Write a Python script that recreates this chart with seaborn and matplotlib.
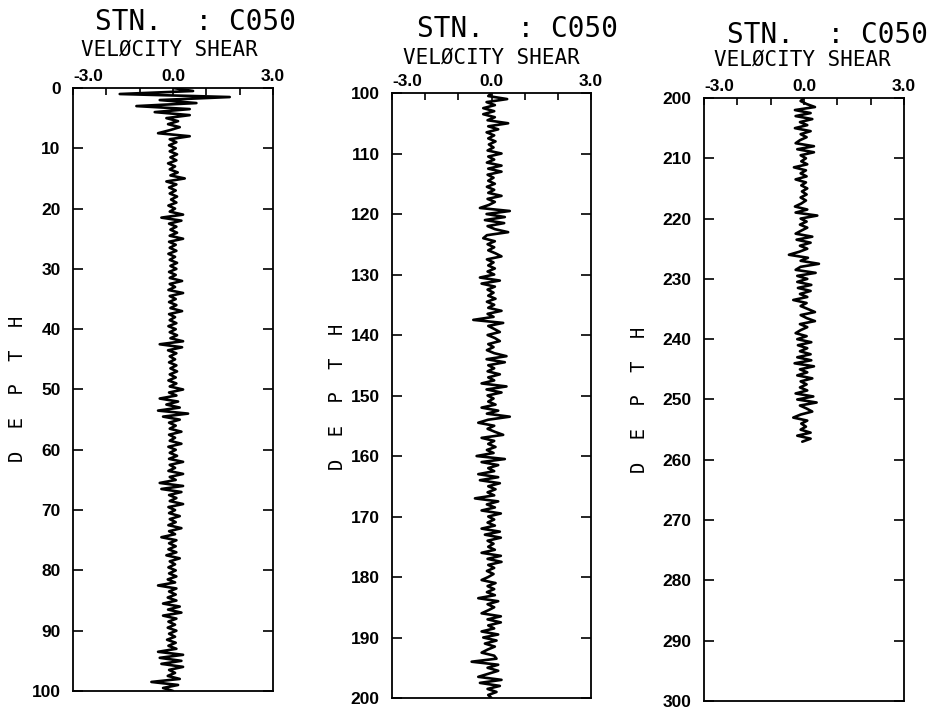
import matplotlib
matplotlib.use("Agg")
import matplotlib.pyplot as plt
import numpy as np
import seaborn as sns

# ---- data (velocity shear vs depth, 0.5 m steps) ----
station_title = "STN.  : C050"
quantity_title = "VELØCITY SHEAR"
x_tick_values = [-3, -2, -1, 0, 1, 2, 3]
x_tick_labels = ["-3.0", "", "", "0.0", "", "", "3.0"]

depth_step = 0.5

shear_0_100 = [
    0.0, 0.6, -1.6, 1.7, -0.4, 0.7, -1.1, 0.5, -0.55, 0.5,
    -0.2, 0.15, -0.15, 0.2, -0.1, -0.45, 0.5, -0.1, 0.1, -0.12,
    0.08, -0.1, 0.12, -0.08, 0.1, -0.15, 0.06, -0.1, 0.14, -0.08,
    0.35, -0.2, 0.1, -0.12, 0.08, -0.1, 0.12, -0.06, 0.1, -0.14,
    0.06, -0.1, 0.3, -0.35, 0.25, -0.12, 0.1, -0.08, 0.12, -0.1,
    0.3, -0.12, 0.08, -0.1, 0.1, -0.14, 0.06, -0.1, 0.12, -0.08,
    0.1, -0.12, 0.08, -0.1, 0.27, -0.1, 0.06, -0.14, 0.3, -0.1,
    0.08, -0.12, 0.1, -0.08, 0.27, -0.12, 0.06, -0.1, 0.1, -0.14,
    0.08, -0.1, 0.12, -0.08, 0.3, -0.4, 0.27, -0.15, 0.1, -0.1,
    0.06, -0.12, 0.1, -0.08, 0.12, -0.1, 0.08, -0.14, 0.1, -0.1,
    0.3, -0.12, 0.1, -0.4, 0.15, -0.2, 0.2, -0.45, 0.45, -0.3,
    0.2, -0.12, 0.08, -0.1, 0.25, -0.12, 0.06, -0.1, 0.25, -0.14,
    0.08, -0.1, 0.12, -0.12, 0.3, -0.1, 0.06, -0.14, 0.3, -0.1,
    0.08, -0.4, 0.3, -0.35, 0.25, -0.12, 0.1, -0.1, 0.3, -0.14,
    0.06, -0.12, 0.2, -0.1, 0.08, -0.14, 0.25, -0.12, 0.06, -0.35,
    0.1, -0.12, 0.08, -0.14, 0.1, -0.2, 0.2, -0.1, 0.06, -0.14,
    0.08, -0.12, 0.1, -0.16, 0.06, -0.45, 0.1, -0.12, 0.08, -0.16,
    0.1, -0.3, 0.2, -0.15, 0.25, -0.3, 0.1, -0.14, 0.06, -0.16,
    0.1, -0.12, 0.06, -0.18, 0.08, -0.14, 0.1, -0.45, 0.3, -0.4,
    0.25, -0.35, 0.3, -0.12, 0.06, -0.16, 0.2, -0.65, 0.15, -0.3,
    0.0,
]

shear_100_200 = [
    0.0, -0.1, 0.47, -0.15, 0.1, -0.25, 0.08, -0.25, 0.1, -0.12,
    0.5, -0.1, 0.2, -0.15, 0.08, -0.1, 0.12, -0.08, 0.06, -0.12,
    0.3, -0.1, 0.08, -0.14, 0.3, -0.1, 0.3, -0.12, 0.06, -0.1,
    0.1, -0.14, 0.08, -0.1, 0.3, -0.12, 0.1, -0.08, -0.35, 0.55,
    -0.15, 0.4, -0.2, 0.38, -0.12, 0.1, 0.5, -0.14, -0.25, 0.1,
    -0.12, 0.08, -0.1, 0.12, 0.3, -0.14, 0.06, -0.1, 0.1, -0.12,
    0.08, -0.35, 0.25, -0.3, 0.1, -0.12, 0.06, -0.1, 0.12, -0.14,
    0.08, -0.1, 0.3, -0.12, 0.06, -0.55, 0.35, -0.1, 0.08, 0.25,
    -0.12, 0.1, 0.25, -0.1, 0.06, -0.14, 0.08, 0.45, -0.15, 0.4,
    -0.1, 0.08, -0.12, 0.25, -0.1, 0.08, -0.3, 0.45, -0.15, 0.3,
    -0.12, 0.06, -0.1, 0.12, -0.3, 0.2, -0.14, 0.55, -0.1, -0.4,
    0.08, -0.12, 0.1, 0.35, -0.3, 0.08, -0.1, 0.12, -0.14, 0.06,
    -0.45, 0.4, -0.3, 0.2, -0.1, 0.08, -0.4, 0.2, -0.35, 0.25,
    -0.1, 0.12, -0.12, 0.08, -0.5, 0.2, -0.14, 0.1, -0.3, 0.28,
    -0.1, 0.08, -0.12, 0.1, -0.3, 0.25, -0.2, 0.28, -0.12, 0.06,
    -0.1, 0.1, -0.3, 0.28, -0.12, 0.3, -0.1, 0.08, -0.14, 0.06,
    -0.1, -0.3, 0.12, -0.12, 0.08, -0.14, 0.1, -0.4, 0.2, -0.12,
    0.08, -0.1, -0.3, 0.28, -0.12, 0.28, -0.1, 0.08, -0.3, 0.2,
    -0.25, 0.15, -0.2, 0.1, -0.12, -0.3, 0.08, 0.15, -0.6, 0.2,
    -0.12, 0.2, -0.1, -0.4, 0.3, -0.35, 0.25, -0.12, 0.15, -0.1,
    0.0,
]

shear_200_257 = [
    0.0, -0.1, 0.08, 0.33, -0.27, 0.2, -0.25, 0.25, -0.12, 0.1,
    -0.27, 0.2, -0.1, 0.08, -0.12, -0.25, 0.3, -0.2, 0.3, -0.1,
    0.06, -0.08, 0.1, -0.3, 0.06, -0.1, 0.08, -0.25, 0.06, -0.08,
    0.1, -0.06, 0.08, -0.1, 0.06, -0.08, -0.27, 0.1, -0.25, 0.4,
    -0.1, 0.08, -0.12, 0.1, -0.08, -0.25, 0.25, -0.22, 0.2, -0.12,
    0.1, -0.14, -0.45, 0.12, -0.1, 0.45, -0.1, -0.25, 0.35, -0.2,
    0.1, -0.2, 0.22, -0.18, 0.2, -0.12, 0.1, -0.32, 0.08, -0.1,
    0.12, 0.33, -0.1, 0.08, 0.33, -0.12, 0.1, -0.1, -0.25, 0.08,
    -0.2, 0.22, -0.18, 0.1, -0.12, 0.2, -0.2, 0.22, -0.28, 0.3,
    -0.12, 0.1, -0.2, 0.25, -0.1, 0.08, -0.12, 0.1, -0.25, 0.28,
    -0.2, 0.38, -0.12, 0.08, 0.25, -0.1, -0.32, 0.1, -0.08, 0.06,
    -0.1, 0.2, -0.2, 0.2, -0.05,
]

panel_starts = [0, 100, 200]
panel_shear = [shear_0_100, shear_100_200, shear_200_257]

# ---- layout (figure fractions) ----
axes_boxes = [
    [0.078, 0.0254, 0.2134, 0.8505],
    [0.4184, 0.0155, 0.2124, 0.8533],
    [0.7513, 0.0113, 0.2134, 0.8505],
]
station_pos = [(0.209, 0.957), (0.552, 0.948), (0.883, 0.940)]
quantity_pos = [(0.181, 0.922), (0.524, 0.911), (0.856, 0.907)]
depth_label_pos = [(0.019, 0.451), (0.36, 0.44), (0.683, 0.436)]

sns.set_style("ticks")
plt.rcParams["font.family"] = ["DejaVu Sans Mono", "DejaVu Sans"]
plt.rcParams["text.color"] = "black"
plt.rcParams["xtick.color"] = "black"
plt.rcParams["ytick.color"] = "black"

fig = plt.figure(figsize=(9.37, 7.09), dpi=100)

for i, (start, shear) in enumerate(zip(panel_starts, panel_shear)):
    depth = start + depth_step * np.arange(len(shear))
    ax = fig.add_axes(axes_boxes[i])
    sns.lineplot(x=shear, y=depth, orient="y", sort=False, estimator=None,
                 color="black", linewidth=1.9, ax=ax)

    ax.set_xlim(-3, 3)
    ax.set_ylim(start + 100, start)
    ax.set_xlabel("")
    ax.set_ylabel("")

    ax.xaxis.set_ticks_position("top")
    ax.set_xticks(x_tick_values)
    ax.set_xticklabels(x_tick_labels)
    yticks = list(range(start, start + 101, 10))
    ax.set_yticks(yticks)
    ax.set_yticklabels([str(v) for v in yticks])

    ax.tick_params(axis="x", direction="in", length=5, width=1.2,
                   top=True, bottom=False, labeltop=True, labelbottom=False, pad=3)
    ax.tick_params(axis="y", direction="in", length=7, width=1.2,
                   left=True, right=True, labelleft=True, pad=9)
    for lbl in ax.get_xticklabels() + ax.get_yticklabels():
        lbl.set_fontfamily(["Liberation Sans", "DejaVu Sans"])
        lbl.set_fontweight("bold")
        lbl.set_fontsize(12.5)
        lbl.set_color("black")
    ax.get_xticklabels()[0].set_horizontalalignment("left")

    for side in ["top", "bottom", "left", "right"]:
        ax.spines[side].set_visible(True)
        ax.spines[side].set_linewidth(1.3)
        ax.spines[side].set_color("black")

    fig.text(*station_pos[i], station_title, ha="center", va="baseline",
             fontsize=20, color="black")
    fig.text(*quantity_pos[i], quantity_title, ha="center", va="baseline",
             fontsize=15, color="black")
    fig.text(*depth_label_pos[i], "D  E  P  T  H", rotation=90, ha="center",
             va="center", fontsize=13.5, color="black")

fig.savefig("out.png", dpi=100, facecolor="white")
